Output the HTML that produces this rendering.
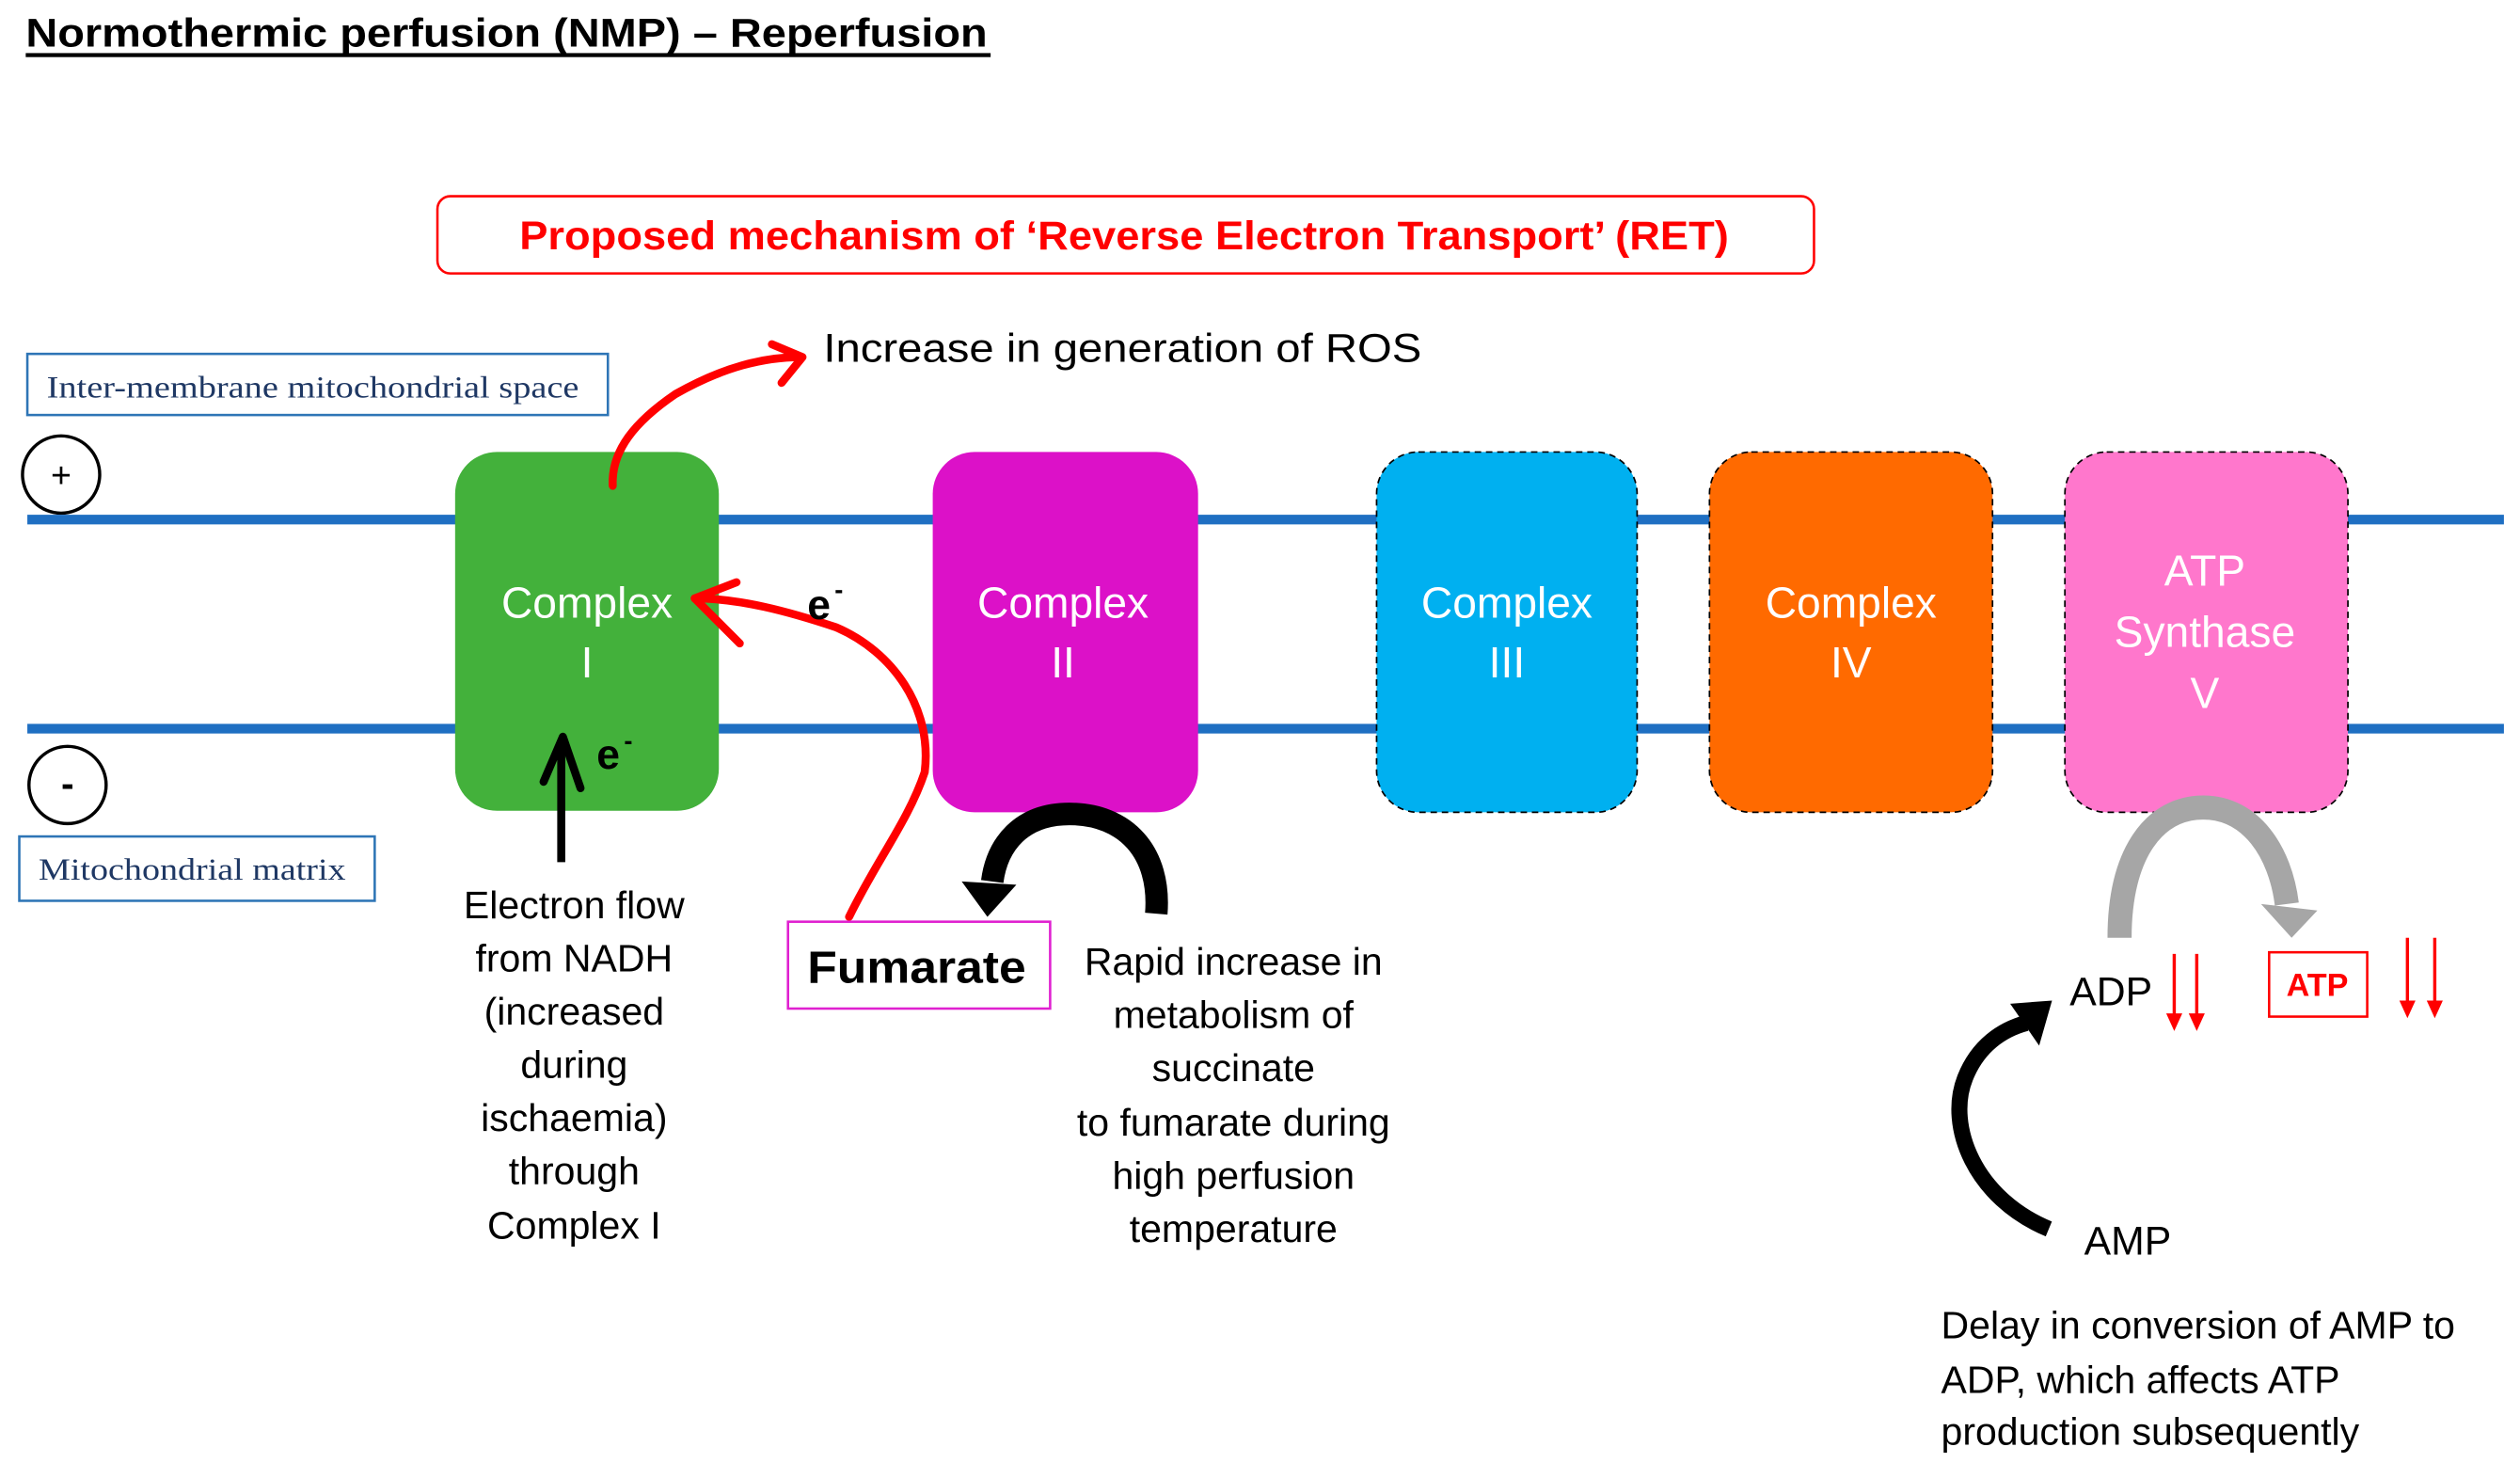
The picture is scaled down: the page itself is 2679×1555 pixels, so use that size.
<!DOCTYPE html>
<html><head><meta charset="utf-8"><style>
html,body{margin:0;padding:0;background:#fff;}
svg{display:block;}
text{font-family:"Liberation Sans",sans-serif;}
</style></head><body>
<svg width="2679" height="1555" viewBox="0 0 1567 909.5" preserveAspectRatio="none" xmlns="http://www.w3.org/2000/svg">
<rect width="1567" height="910" fill="#fff"/>
<!-- title -->
<text x="16" y="29" font-size="25" font-weight="bold" textLength="598" lengthAdjust="spacingAndGlyphs">Normothermic perfusion (NMP) – Reperfusion</text>
<rect x="16" y="33" width="600" height="2.5" fill="#000"/>
<!-- RET box -->
<rect x="272" y="122" width="856" height="48" rx="8" fill="#fff" stroke="#ff0000" stroke-width="1.5"/>
<text x="699" y="155" font-size="25" font-weight="bold" fill="#ff0000" text-anchor="middle" textLength="752" lengthAdjust="spacingAndGlyphs">Proposed mechanism of ‘Reverse Electron Transport’ (RET)</text>
<text x="512" y="225" font-size="25" textLength="372" lengthAdjust="spacingAndGlyphs">Increase in generation of ROS</text>
<!-- label boxes -->
<rect x="17" y="220" width="361" height="38" fill="#fff" stroke="#2e75b6" stroke-width="1.5"/>
<text x="29" y="247" font-size="19" fill="#1f3864" textLength="331" lengthAdjust="spacingAndGlyphs" style="font-family:'Liberation Serif',serif">Inter-membrane  mitochondrial  space</text>
<rect x="12" y="520" width="221" height="40" fill="#fff" stroke="#2e75b6" stroke-width="1.5"/>
<text x="24" y="547" font-size="19" fill="#1f3864" textLength="191" lengthAdjust="spacingAndGlyphs" style="font-family:'Liberation Serif',serif">Mitochondrial matrix</text>
<!-- +/- -->
<circle cx="38" cy="295" r="24" fill="#fff" stroke="#000" stroke-width="2"/>
<text x="38" y="303" font-size="22" text-anchor="middle">+</text>
<circle cx="42" cy="488" r="24" fill="#fff" stroke="#000" stroke-width="2"/>
<text x="42" y="495" font-size="24" text-anchor="middle" font-weight="bold">-</text>
<!-- membranes -->
<rect x="17" y="320" width="1540" height="6" fill="#1f6fc2"/>
<rect x="17" y="450" width="1540" height="6" fill="#1f6fc2"/>
<!-- complexes -->
<rect x="283" y="281" width="164" height="223" rx="26" fill="#43b13b"/>
<rect x="580" y="281" width="165" height="224" rx="26" fill="#dc11c8"/>
<rect x="856" y="281" width="162" height="224" rx="26" fill="#00b0f0" stroke="#000" stroke-width="1" stroke-dasharray="4,3"/>
<rect x="1063" y="281" width="176" height="224" rx="26" fill="#ff6a00" stroke="#000" stroke-width="1" stroke-dasharray="4,3"/>
<rect x="1284" y="281" width="176" height="224" rx="26" fill="#ff77cc" stroke="#000" stroke-width="1" stroke-dasharray="4,3"/>
<g fill="#fff" font-size="27" text-anchor="middle">
<text x="365" y="384">Complex</text><text x="365" y="421">I</text>
<text x="661" y="384">Complex</text><text x="661" y="421">II</text>
<text x="937" y="384">Complex</text><text x="937" y="421">III</text>
<text x="1151" y="384">Complex</text><text x="1151" y="421">IV</text>
<text x="1371" y="364">ATP</text><text x="1371" y="402">Synthase</text><text x="1371" y="440">V</text>
</g>
<!-- red arrows -->
<g fill="none" stroke="#ff0000" stroke-width="5" stroke-linecap="round" stroke-linejoin="round">
<path d="M381 302 C380 280 395 262 420 245 C450 228 475 222 498 222"/>
<path d="M480 214 L499 222 L486 238"/>
<path d="M528 570 C545 535 565 510 575 480 C580 440 555 405 520 390 C490 380 460 372 432 372"/>
<path d="M458 362 L432 372 L460 400"/>
</g>
<g font-size="26" font-weight="bold">
<text x="502" y="385">e</text><text x="519" y="372" font-size="16">-</text>
<text x="371" y="478">e</text><text x="388" y="466" font-size="16">-</text>
</g>
<!-- black arrow up -->
<path d="M349 536 L349 462" stroke="#000" stroke-width="5" fill="none"/>
<path d="M338 486 L350 458 L361 490" stroke="#000" stroke-width="5" fill="none" stroke-linejoin="round" stroke-linecap="round"/>
<g font-size="24" text-anchor="middle">
<text x="357" y="571">Electron flow</text>
<text x="357" y="604">from NADH</text>
<text x="357" y="637">(increased</text>
<text x="357" y="670">during</text>
<text x="357" y="703">ischaemia)</text>
<text x="357" y="736">through</text>
<text x="357" y="770">Complex I</text>
</g>
<!-- fumarate -->
<rect x="490" y="573" width="163" height="54" fill="#fff" stroke="#e020d0" stroke-width="1.5"/>
<text x="570" y="611" font-size="28" font-weight="bold" text-anchor="middle" textLength="136" lengthAdjust="spacingAndGlyphs">Fumarate</text>
<!-- black arc -->
<path d="M719 568 C722 530 700 506 665 506 C635 506 620 525 617 548" fill="none" stroke="#000" stroke-width="14"/>
<polygon points="598,548 632,550 614,570" fill="#000"/>
<g font-size="24" text-anchor="middle">
<text x="767" y="606">Rapid increase in</text>
<text x="767" y="639">metabolism of</text>
<text x="767" y="672">succinate</text>
<text x="767" y="706">to fumarate during</text>
<text x="767" y="739">high perfusion</text>
<text x="767" y="772">temperature</text>
</g>
<!-- gray arc -->
<path d="M1318 583 C1318 530 1340 502 1370 502 C1400 502 1418 530 1422 562" fill="none" stroke="#a6a6a6" stroke-width="15"/>
<polygon points="1406,562 1441,566 1425,583" fill="#a6a6a6"/>
<text x="1287" y="625" font-size="25">ADP</text>
<g stroke="#ff0000" stroke-width="2">
<line x1="1352" y1="593" x2="1352" y2="634"/><line x1="1366" y1="593" x2="1366" y2="634"/>
<line x1="1497" y1="583" x2="1497" y2="626"/><line x1="1514" y1="583" x2="1514" y2="626"/>
</g>
<g fill="#ff0000">
<polygon points="1347,630 1357,630 1352,641"/><polygon points="1361,630 1371,630 1366,641"/>
<polygon points="1492,622 1502,622 1497,633"/><polygon points="1509,622 1519,622 1514,633"/>
</g>
<rect x="1411" y="592" width="61" height="40" fill="#fff" stroke="#ff0000" stroke-width="1.5"/>
<text x="1441" y="619" font-size="20" font-weight="bold" fill="#ff0000" text-anchor="middle">ATP</text>
<!-- AMP->ADP arrow -->
<path d="M1274 764 C1228 745 1210 700 1222 670 C1230 650 1245 640 1260 636" fill="none" stroke="#000" stroke-width="10"/>
<polygon points="1250,624 1276,622 1268,650" fill="#000"/>
<text x="1296" y="780" font-size="25">AMP</text>
<g font-size="24">
<text x="1207" y="832">Delay in conversion of AMP to</text>
<text x="1207" y="866">ADP, which affects  ATP</text>
<text x="1207" y="898">production subsequently</text>
</g>
</svg>
</body></html>
